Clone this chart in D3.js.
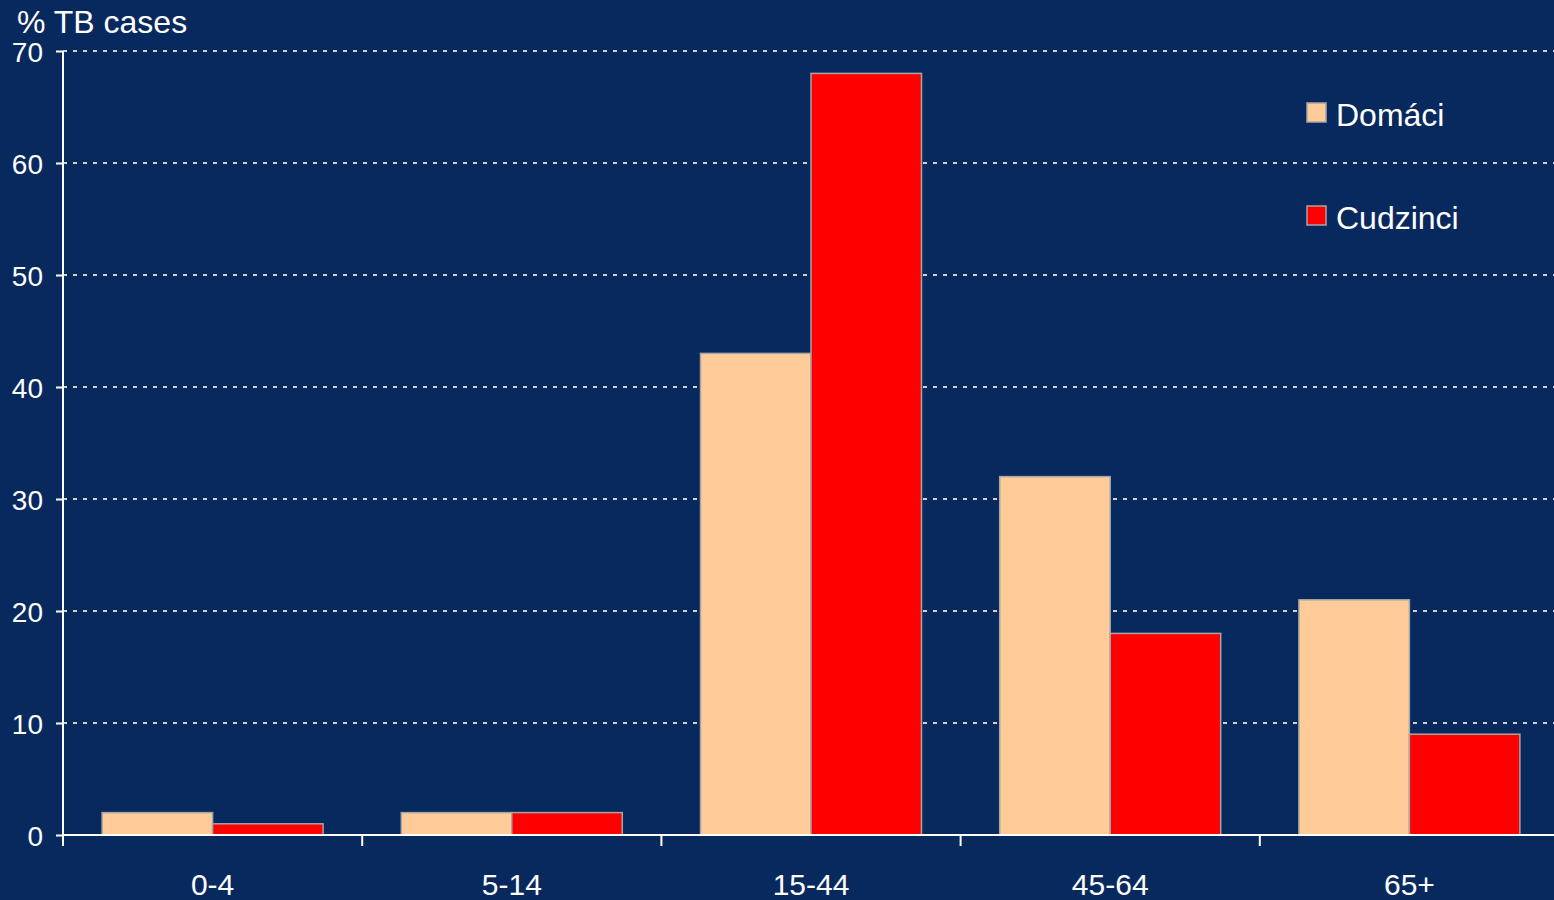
<!DOCTYPE html>
<html><head><meta charset="utf-8">
<script src="https://cdn.jsdelivr.net/npm/d3@7"></script>
<style>
html,body{margin:0;padding:0;background:#08295e;}
svg{display:block;font-family:"Liberation Sans",Arial,sans-serif;}
</style></head>
<body>
<svg id="chart" width="1554" height="900"></svg>
<script>
const categories = ["0-4", "5-14", "15-44", "45-64", "65+"];
const seriesNames = ["Domáci", "Cudzinci"];
const domaci = [2, 2, 43, 32, 21];
const cudzinci = [1, 2, 68, 18, 9];
const yTicks = [0, 10, 20, 30, 40, 50, 60, 70];
const yTitle = "% TB cases";
const colors = ["#ffcc99", "#ff0000"];

const svg = d3.select("#chart");
const W = 1554, H = 900;
svg.append("rect").attr("width", W).attr("height", H).attr("fill", "#08295e");

const pLeft = 63, pRight = 1559, pTop = 51, pBottom = 835;
const x0 = d3.scaleBand().domain(categories).range([pLeft, pRight]).padding(0);
const x1 = d3.scaleBand().domain(seriesNames).range([0, x0.bandwidth()]).paddingInner(0).paddingOuter(0.354);
const y = d3.scaleLinear().domain([0, 70]).range([pBottom, pTop]);

// gridlines
svg.append("g").selectAll("line").data(yTicks.filter(d => d > 0)).join("line")
  .attr("x1", pLeft).attr("x2", W)
  .attr("y1", d => y(d)).attr("y2", d => y(d))
  .attr("stroke", "#d0d0d0").attr("stroke-width", 2)
  .attr("stroke-dasharray", "4,6");

// bars
const data = categories.map((c, i) => ({c, vals: [domaci[i], cudzinci[i]]}));
const g = svg.append("g");
data.forEach(d => {
  d.vals.forEach((v, j) => {
    g.append("rect")
      .attr("x", x0(d.c) + x1(seriesNames[j]))
      .attr("y", y(v))
      .attr("width", x1.bandwidth())
      .attr("height", y(0) - y(v))
      .attr("fill", colors[j])
      .attr("stroke", "#a6a6a6").attr("stroke-width", 1.5);
  });
});

// y axis
const yAxis = d3.axisLeft(y).tickValues(yTicks).tickSize(7).tickPadding(13);
const yg = svg.append("g").attr("transform", `translate(${pLeft},0)`).call(yAxis);
yg.select(".domain").remove();
yg.selectAll(".tick line").attr("stroke", "#fff").attr("stroke-width", 2);
yg.selectAll(".tick text").attr("fill", "#fff").attr("font-size", 28)
  .attr("font-family", "Liberation Sans, Arial, sans-serif").attr("dy", "0.38em");
svg.append("line").attr("x1", pLeft).attr("x2", pLeft).attr("y1", pTop).attr("y2", pBottom + 11)
  .attr("stroke", "#fff").attr("stroke-width", 2);

// x axis
svg.append("line").attr("x1", pLeft).attr("x2", W).attr("y1", pBottom).attr("y2", pBottom)
  .attr("stroke", "#fff").attr("stroke-width", 2);
svg.append("g").selectAll("line").data(categories.slice(1)).join("line")
  .attr("x1", d => x0(d)).attr("x2", d => x0(d))
  .attr("y1", pBottom).attr("y2", pBottom + 11)
  .attr("stroke", "#fff").attr("stroke-width", 2);
const xAxis = d3.axisBottom(x0).tickSize(0).tickPadding(0);
const xg = svg.append("g").attr("transform", `translate(0,${pBottom})`).call(xAxis);
xg.select(".domain").remove();
xg.selectAll(".tick text").attr("fill", "#fff").attr("font-size", 30)
  .attr("font-family", "Liberation Sans, Arial, sans-serif")
  .attr("y", 60).attr("dy", 0);

// title
svg.append("text").attr("x", 17).attr("y", 33).attr("fill", "#fff")
  .attr("font-size", 32).text(yTitle);

// legend
const legY = [103, 206];
seriesNames.forEach((s, i) => {
  svg.append("rect").attr("x", 1307).attr("y", legY[i]).attr("width", 19).attr("height", 19)
    .attr("fill", colors[i]).attr("stroke", "#a6a6a6").attr("stroke-width", 1.5);
  svg.append("text").attr("x", 1336).attr("y", legY[i] + 23).attr("fill", "#fff")
    .attr("font-size", 32).text(s);
});
</script>
</body></html>
